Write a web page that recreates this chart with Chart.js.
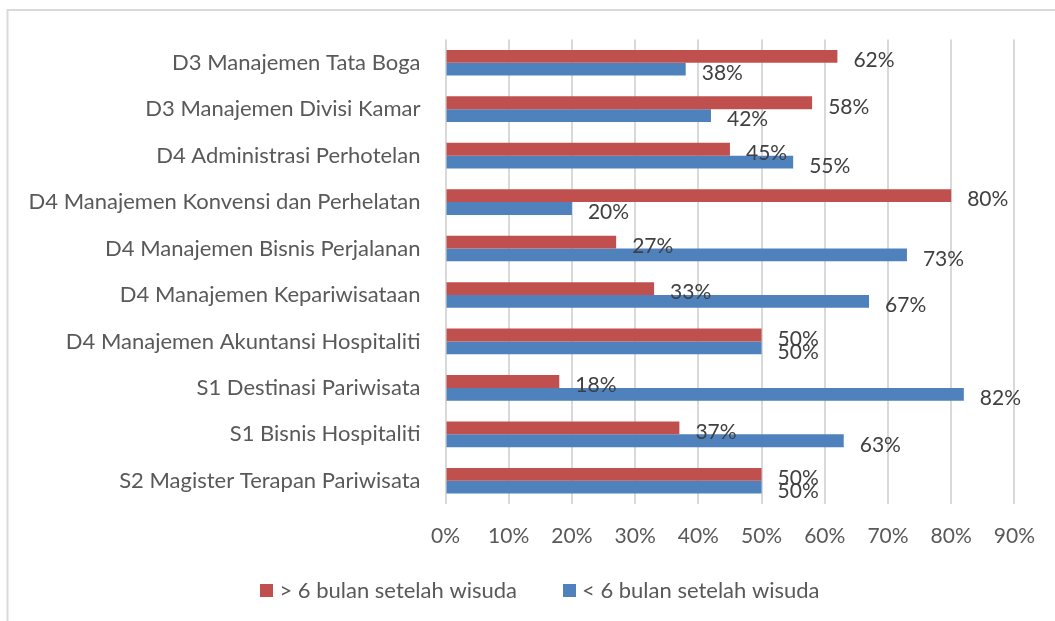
<!DOCTYPE html>
<html>
<head>
<meta charset="utf-8">
<script src="https://cdn.jsdelivr.net/npm/chart.js@4.4.0/dist/chart.umd.min.js"></script>
<style>
html,body{margin:0;padding:0;background:#fff;}
#wrap{width:1055px;height:621px;position:relative;}
</style>
</head>
<body>
<div id="wrap"><canvas id="c" width="1055" height="621"></canvas></div>
<script>
const categories = [
  'D3 Manajemen Tata Boga',
  'D3 Manajemen Divisi Kamar',
  'D4 Administrasi Perhotelan',
  'D4 Manajemen Konvensi dan Perhelatan',
  'D4 Manajemen Bisnis Perjalanan',
  'D4 Manajemen Kepariwisataan',
  'D4 Manajemen Akuntansi Hospitaliti',
  'S1 Destinasi Pariwisata',
  'S1 Bisnis Hospitaliti',
  'S2 Magister Terapan Pariwisata'
];
const overSixMonths = [62, 58, 45, 80, 27, 33, 50, 18, 37, 50];
const underSixMonths = [38, 42, 55, 20, 73, 67, 50, 82, 63, 50];
const seriesNames = ['> 6 bulan setelah wisuda', '< 6 bulan setelah wisuda'];
const xTickMax = 90;
const xTickStep = 10;

const FONT = 'Lato';

const framePlugin = {
  id: 'frame',
  beforeDraw(chart) {
    const ctx = chart.ctx;
    ctx.save();
    ctx.fillStyle = '#ffffff';
    ctx.fillRect(0, 0, chart.width, chart.height);
    ctx.strokeStyle = '#d9d9d9';
    ctx.lineWidth = 2;
    ctx.beginPath();
    ctx.moveTo(7.5, chart.height);
    ctx.lineTo(7.5, 10);
    ctx.lineTo(chart.width, 10);
    ctx.stroke();
    ctx.restore();
  }
};

const valueLabels = {
  id: 'valueLabels',
  afterDatasetsDraw(chart) {
    const ctx = chart.ctx;
    ctx.save();
    ctx.font = '21px ' + FONT;
    ctx.fillStyle = '#404040';
    ctx.textAlign = 'left';
    ctx.textBaseline = 'middle';
    chart.data.datasets.forEach((ds, i) => {
      const meta = chart.getDatasetMeta(i);
      meta.data.forEach((bar, j) => {
        ctx.fillText(Math.round(ds.data[j]) + '%', bar.x + 16, bar.y + 4);
      });
    });
    ctx.restore();
  }
};

const bottomLegend = {
  id: 'bottomLegend',
  afterDraw(chart) {
    const ctx = chart.ctx;
    ctx.save();
    ctx.font = '22px ' + FONT;
    ctx.textBaseline = 'middle';
    ctx.textAlign = 'left';
    const box = 13, boxGap = 6, itemGap = 46;
    const items = chart.data.datasets.map(ds => ({
      label: ds.label, color: ds.backgroundColor, w: ctx.measureText(ds.label).width
    }));
    const total = items.reduce((s, it) => s + box + boxGap + it.w, 0) + itemGap * (items.length - 1);
    let x = 540 - total / 2;
    const cy = 591;
    items.forEach(it => {
      ctx.fillStyle = it.color;
      ctx.fillRect(Math.round(x), cy - 7, box, box);
      ctx.fillStyle = '#595959';
      ctx.fillText(it.label, x + box + boxGap, cy);
      x += box + boxGap + it.w + itemGap;
    });
    ctx.restore();
  }
};

new Chart(document.getElementById('c'), {
  type: 'bar',
  data: {
    labels: categories,
    datasets: [
      { label: seriesNames[0], data: overSixMonths, backgroundColor: '#C0504D', categoryPercentage: 0.553, barPercentage: 1.0 },
      { label: seriesNames[1], data: underSixMonths, backgroundColor: '#4F81BD', categoryPercentage: 0.553, barPercentage: 1.0 }
    ]
  },
  options: {
    indexAxis: 'y',
    responsive: false,
    animation: false,
    devicePixelRatio: 1,
    layout: { padding: { top: 39.5, right: 39.5, left: 0, bottom: 50 } },
    scales: {
      x: {
        type: 'linear',
        min: 0,
        max: xTickMax,
        ticks: {
          stepSize: xTickStep,
          callback: v => v + '%',
          font: { family: FONT, size: 21 },
          color: '#595959',
          padding: 20
        },
        grid: { color: '#d9d9d9', lineWidth: 2, drawTicks: false },
        border: { display: false },
        afterFit(s) { s.height = 67; }
      },
      y: {
        grid: { display: false, drawTicks: false },
        border: { display: false },
        ticks: {
          font: { family: FONT, size: 22 },
          color: '#595959',
          padding: 25
        },
        afterFit(s) { s.width = 445.5; }
      }
    },
    plugins: {
      legend: { display: false },
      tooltip: { enabled: false }
    }
  },
  plugins: [framePlugin, valueLabels, bottomLegend]
});
</script>
</body>
</html>
